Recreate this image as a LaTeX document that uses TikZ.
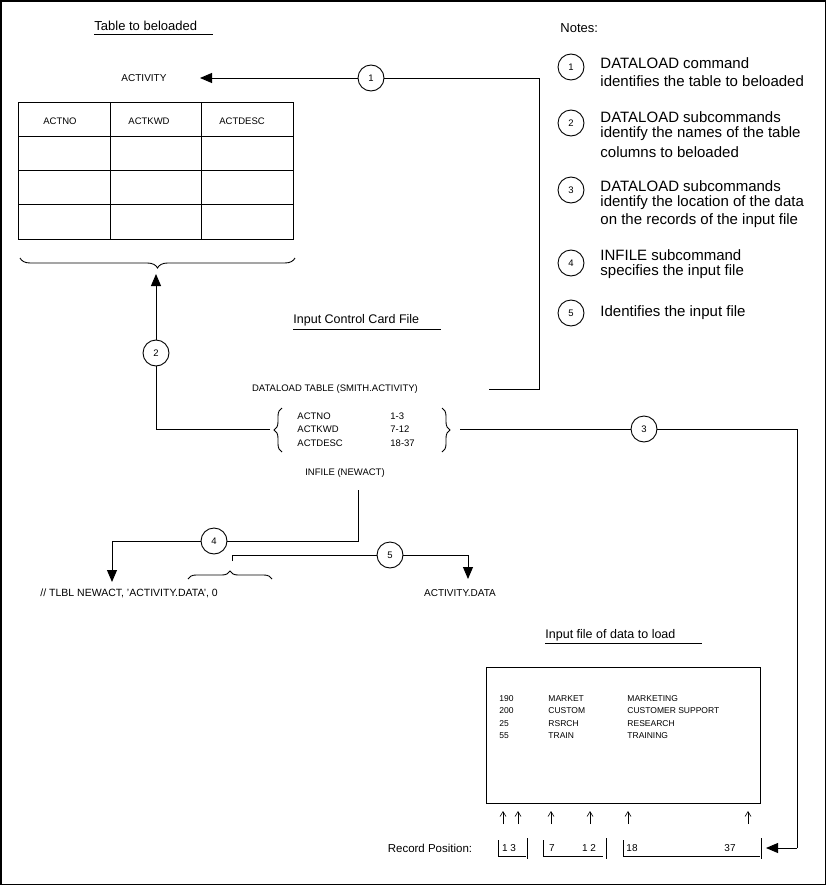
\documentclass[tikz,border=0pt]{standalone}
\usepackage{fontspec}
\setmainfont{Liberation Sans}
\usetikzlibrary{arrows.meta,decorations.pathreplacing}
\newcommand{\fs}[1]{\fontsize{#1}{#1}\selectfont}
\begin{document}
\begin{tikzpicture}[x=1pt,y=-1pt,line width=0.9pt,
  num/.style={circle,draw,minimum size=26pt,inner sep=0pt,font=\fs{9.5}},
  arr/.style={-{Triangle[length=12pt,width=10pt]}},
  upar/.style={-{Straight Barb[length=5pt,width=6pt]},line width=0.6pt},
  lbl/.style={inner sep=0pt,anchor=west},
  cbl/.style={inner sep=0pt},
  notetxt/.style={lbl,font=\fs{15}},
  headtxt/.style={lbl,font=\fs{13}},
  smalltxt/.style={font=\fs{9.5}},
  datatxt/.style={lbl,font=\fs{8.5}},
  brc/.style={decorate,decoration={brace,amplitude=#1}},
  brc/.default=8pt
]
\useasboundingbox (0,0) rectangle (827,886);
\draw[line width=1.5pt] (0.75,0.75) rectangle (825.5,884.5);

% ---- Table to be loaded
\node[headtxt] (ttl) at (94,26) {Table to beloaded};
\draw (94,34) -- (213,34);
\node[cbl,font=\fs{10}] (act) at (144,78) {ACTIVITY};
\draw (18,102) rectangle (293,239);
\draw (110,102) -- (110,239) (201,102) -- (201,239);
\draw (18,136) -- (293,136) (18,170) -- (293,170) (18,204) -- (293,204);
\node[cbl,smalltxt] (h1) at (60,121) {ACTNO};
\node[cbl,smalltxt] (h2) at (149,121) {ACTKWD};
\node[cbl,smalltxt] (h3) at (242,121) {ACTDESC};
\draw[brc=10pt] (295,258) -- (20,258);

% ---- Notes
\node[lbl,font=\fs{13}] (notes) at (560,28) {Notes:};
\node[num] (m1) at (571,67) {1};
\node[num] (m2) at (571,123) {2};
\node[num] (m3) at (571,190) {3};
\node[num] (m4) at (571,263) {4};
\node[num] (m5) at (571,313) {5};
\node[notetxt] (t1a) at (600,63) {DATALOAD command};
\node[notetxt] (t1b) at (600,81) {identifies the table to beloaded};
\node[notetxt] (t2a) at (600,117) {DATALOAD subcommands};
\node[notetxt] (t2b) at (600,134) {identify the names of the table};
\node[notetxt] (t2c) at (600,152) {columns to beloaded};
\node[notetxt] (t3a) at (600,186) {DATALOAD subcommands};
\node[notetxt] (t3b) at (600,203) {identify the location of the data};
\node[notetxt] (t3c) at (600,221) {on the records of the input file};
\node[notetxt] (t4a) at (600,255) {INFILE subcommand};
\node[notetxt] (t4b) at (600,272) {specifies the input file};
\node[notetxt] (t5a) at (600,313) {Identifies the input file};

% ---- Input control card file
\node[lbl,font=\fs{12.5}] (icc) at (293,320) {Input Control Card File};
\draw (293,329) -- (441,329);
\node[cbl,smalltxt] (dl) at (335,389) {DATALOAD TABLE (SMITH.ACTIVITY)};
\node[lbl,smalltxt] (r1a) at (297,416) {ACTNO};
\node[lbl,smalltxt] (r2a) at (297,429) {ACTKWD};
\node[lbl,smalltxt] (r3a) at (297,443) {ACTDESC};
\node[lbl,smalltxt] (r1b) at (390,416) {1-3};
\node[lbl,smalltxt] (r2b) at (390,429) {7-12};
\node[lbl,smalltxt] (r3b) at (390,443) {18-37};
\draw[brc] (282,452) -- (282,408);
\draw[brc] (442,408) -- (442,452);
\node[cbl,smalltxt] (inf) at (345,473) {INFILE (NEWACT)};

% ---- connector 1
\coordinate (c1s) at (489,389);
\coordinate (c1k) at (539,389);
\coordinate (c1t) at (539,78);
\node[num] (n1) at (371,78) {1};
\coordinate (c1e) at (200,78);
\draw (c1s) -- (c1k) -- (c1t) -- (n1);
\draw[arr] (n1) -- (c1e);

% ---- connector 2
\coordinate (c2s) at (270,429);
\coordinate (c2k) at (156,429);
\node[num] (n2) at (156,353) {2};
\coordinate (c2e) at (156,274);
\draw (c2s) -- (c2k) -- (n2);
\draw[arr] (n2) -- (c2e);

% ---- connector 3
\coordinate (c3s) at (460,429);
\node[num] (n3) at (644,429) {3};
\coordinate (c3k) at (797,429);
\coordinate (c3l) at (797,848);
\coordinate (c3e) at (766,848);
\draw (c3s) -- (n3) -- (c3k) -- (c3l);
\draw[arr] (c3l) -- (c3e);

% ---- connector 4
\coordinate (c4s) at (358,490);
\coordinate (c4k) at (358,541);
\node[num] (n4) at (214,541) {4};
\coordinate (c4l) at (112,541);
\coordinate (c4e) at (112,582);
\draw (c4s) -- (c4k) -- (n4) -- (c4l);
\draw[arr] (c4l) -- (c4e);

% ---- connector 5
\coordinate (c5s) at (232,561);
\coordinate (c5k) at (232,555);
\node[num] (n5) at (390,555) {5};
\coordinate (c5l) at (468,555);
\coordinate (c5e) at (468,579);
\draw (c5s) -- (c5k) -- (n5) -- (c5l);
\draw[arr] (c5l) -- (c5e);
\draw[brc] (188,579) -- (272,579);

\node[lbl,font=\fs{10.5}] (tlbl) at (40,593) {// TLBL NEWACT, 'ACTIVITY.DATA', 0};
\node[cbl,font=\fs{10}] (adata) at (460,593) {ACTIVITY.DATA};

% ---- Input file
\node[lbl,font=\fs{12.5}] (ifh) at (545,635) {Input file of data to load};
\draw (545,643) -- (702,643);
\draw (486,667) rectangle (760,803);
\node[datatxt] (d11) at (499,699) {190};
\node[datatxt] (d21) at (499,711) {200};
\node[datatxt] (d31) at (499,724) {25};
\node[datatxt] (d41) at (499,736) {55};
\node[datatxt] (d12) at (548,699) {MARKET};
\node[datatxt] (d22) at (548,711) {CUSTOM};
\node[datatxt] (d32) at (548,724) {RSRCH};
\node[datatxt] (d42) at (548,736) {TRAIN};
\node[datatxt] (d13) at (627,699) {MARKETING};
\node[datatxt] (d23) at (627,711) {CUSTOMER SUPPORT};
\node[datatxt] (d33) at (627,724) {RESEARCH};
\node[datatxt] (d43) at (627,736) {TRAINING};

\foreach \x [count=\i] in {503,518,551,590,628,748}{
  \coordinate (ua\i) at (\x,824);
  \coordinate (ub\i) at (\x,811);
  \draw[upar] (ua\i) -- (ub\i);
}

% ---- Record position
\node[cbl,font=\fs{11.5}] (rp) at (430,848) {Record Position:};
\begin{scope}[line width=0.7pt]
\draw (498,840) -- (498,856) -- (526,856);
\draw (527,838) -- (527,859);
\draw (543,840) -- (543,856) -- (603,856);
\draw (606,838) -- (606,859);
\draw (623,840) -- (623,856) -- (760,856);
\draw (761,838) -- (761,859);
\end{scope}
\node[cbl,font=\fs{10}] (p1) at (509,848) {1 3};
\node[cbl,font=\fs{10}] (p2) at (552,848) {7};
\node[cbl,font=\fs{10}] (p3) at (589,848) {1 2};
\node[cbl,font=\fs{10}] (p4) at (632,848) {18};
\node[cbl,font=\fs{10}] (p5) at (730,848) {37};
\end{tikzpicture}
\end{document}
